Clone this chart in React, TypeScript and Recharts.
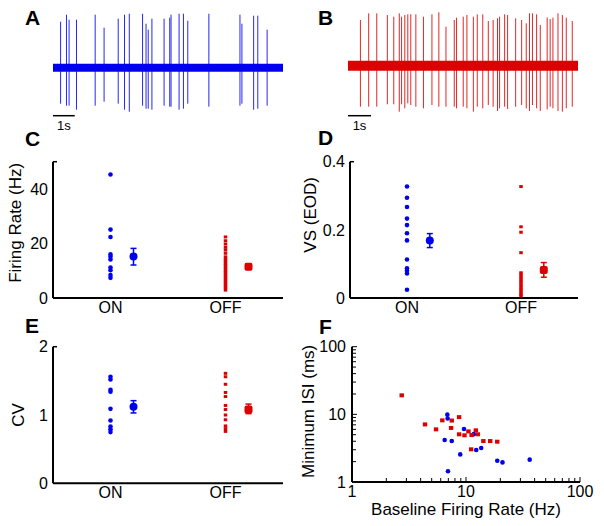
import React from "react";
import {
  ComposedChart,
  ScatterChart,
  Scatter,
  Line,
  XAxis,
  YAxis,
  ReferenceLine,
  ErrorBar,
} from "recharts";

const FONT = '"Liberation Sans", Arial, sans-serif';
const BLUE = "#0000f0";
const RED = "#dd0000";

// A: ON cell spike train (time in s, peak/trough in trace units)
const aDuration = 10.58;
const aSpikeTimes = [0.35, 0.62, 0.74, 1.08, 1.94, 2.35, 3.0, 3.29, 3.51, 4.12, 4.28, 4.38, 4.55, 5.11, 5.37, 5.43, 5.8, 6.0, 6.2, 7.17, 8.6, 8.69, 9.23, 9.42, 9.85];
const aSpikeUp = [46, 53, 48, 48, 53, 40, 49, 53, 54, 54, 44, 38, 49, 49, 50, 53, 54, 54, 47, 54, 53, 44, 52, 52, 38];
const aSpikeDown = [-36, -38, -38, -42, -38, -34, -36, -42, -44, -38, -41, -41, -42, -38, -39, -39, -42, -41, -36, -39, -38, -36, -42, -41, -38];

// B: OFF cell spike train
const bDuration = 10;
const bSpikeTimes = [0.54, 0.9, 1.25, 1.71, 1.99, 2.23, 2.33, 2.47, 2.6, 2.73, 2.95, 3.28, 3.65, 3.95, 4.26, 4.62, 4.72, 5.01, 5.17, 5.45, 5.62, 5.86, 6.1, 6.31, 6.5, 6.59, 6.81, 6.94, 7.29, 7.55, 7.75, 7.89, 8.02, 8.2, 8.36, 8.66, 8.79, 8.91, 9.13, 9.32, 9.49, 9.75];
const bSpikeUp = [45.7, 52.4, 52.4, 50.7, 49.0, 52.4, 49.0, 50.7, 51.4, 51.4, 51.4, 49.0, 51.4, 53.4, 39.0, 45.7, 48.0, 49.0, 50.7, 49.0, 51.4, 51.4, 44.7, 45.7, 47.4, 49.0, 51.4, 50.7, 47.4, 45.7, 42.4, 52.4, 52.4, 51.4, 40.7, 48.3, 46.7, 48.0, 52.4, 50.7, 48.0, 44.7];
const bSpikeDown = [-41, -41, -41, -38.6, -38.6, -46, -38.6, -42.6, -37.6, -39.3, -41, -42.6, -39.3, -41, -41, -41, -42.6, -41, -42.6, -46, -41, -42.6, -39.3, -41, -45.3, -42.6, -41, -43.3, -41, -39.3, -42.6, -45.3, -39.3, -42.6, -45.3, -43.7, -41, -42.6, -45.3, -46, -42.6, -41];

const groups = ["ON", "OFF"];

// C: firing rate (Hz)
const rateOn = [45.3, 25.1, 22.4, 16.0, 15.1, 14.1, 11.2, 10.2, 8.4, 7.4];
const rateOff = [22.4, 21.0, 19.8, 18.6, 17.6, 16.4, 15.1, 14.2, 13.4, 12.6, 11.8, 11.0, 10.2, 9.4, 8.6, 7.8, 7.0, 6.2, 5.4, 4.6, 3.8, 2.9];
const rateMean = [15.2, 11.5];
const rateErr = [[3.1, 3.0], [1.0, 1.0]];

// D: vector strength
const vsOn = [0.327, 0.294, 0.267, 0.233, 0.214, 0.19, 0.169, 0.113, 0.087, 0.08, 0.072, 0.024];
const vsOff = [0.327, 0.209, 0.193, 0.133, 0.074, 0.067, 0.06, 0.053, 0.046, 0.039, 0.032, 0.025, 0.018, 0.011, 0.006];
const vsMean = [0.169, 0.082];
const vsErr = [[0.021, 0.02], [0.021, 0.022]];

// E: CV
const cvOn = [1.56, 1.52, 1.37, 1.34, 1.09, 0.92, 0.83, 0.79, 0.75];
const cvOff = [1.61, 1.56, 1.45, 1.33, 1.27, 1.14, 1.08, 1.0, 0.93, 0.84, 0.8, 0.76];
const cvMean = [1.12, 1.08];
const cvErr = [[0.09, 0.09], [0.06, 0.08]];

// F: min ISI vs baseline rate
const fOnRate = [6.86, 6.9, 6.5, 7.5, 9.6, 8.9, 11.7, 12.3, 13.6, 6.95, 18.8, 20.9, 36.2];
const fOnIsi = [9.9, 8.7, 4.17, 4.03, 6.07, 2.56, 5.1, 2.97, 3.18, 1.44, 2.06, 1.95, 2.14];
const fOffRate = [2.73, 4.37, 5.46, 6.2, 7.5, 7.4, 8.7, 8.7, 9.7, 10.5, 11.2, 12.2, 12.7, 11.1, 14.2, 16.3, 18.8];
const fOffIsi = [19.1, 7.1, 6.0, 8.15, 8.1, 6.3, 9.1, 5.07, 4.9, 5.6, 4.95, 5.8, 5.07, 3.04, 4.03, 4.03, 3.94];
const logTicks = [1, 2, 3, 4, 5, 6, 7, 8, 9, 10, 20, 30, 40, 50, 60, 70, 80, 90, 100];
const decadeTicks = [1, 10, 100];

const axisStyle = { stroke: "#000", strokeWidth: 2 };

const Trace = (props: any) => {
  const { left, times, up, down, duration, color, band, above, barY } = props;
  const baseline = [
    { t: 0, v: 0 },
    { t: duration, v: 0 },
  ];
  return (
    <div style={{ position: "absolute", left, top: 8 }}>
      <ComposedChart width={230} height={130} data={baseline} margin={{ top: 0, right: 0, bottom: 0, left: 0 }}>
        <XAxis type="number" dataKey="t" domain={[0, duration]} hide allowDataOverflow />
        <YAxis type="number" domain={[above - 130, above]} hide allowDataOverflow />
        <Line dataKey="v" stroke={color} strokeWidth={band} dot={false} isAnimationActive={false} />
        {times.map((t: number, i: number) => (
          <ReferenceLine
            key={t}
            segment={[
              { x: t, y: down[i] },
              { x: t, y: up[i] },
            ]}
            stroke={color}
            strokeOpacity={0.85}
            strokeWidth={1}
          />
        ))}
        <ReferenceLine
          segment={[
            { x: 0, y: barY },
            { x: 1, y: barY },
          ]}
          stroke="#000"
          strokeWidth={1.5}
          label={{ value: "1s", position: "bottom", fill: "#000", fontSize: 13, fontFamily: FONT }}
        />
      </ComposedChart>
    </div>
  );
};

const GroupYTick = (props: any) => {
  const { x, y, payload, top, labelTop } = props;
  const v = payload.value;
  const showText = v !== top || labelTop;
  return (
    <g>
      {v === top && <line x1={x + 5} x2={x + 9} y1={y} y2={y} stroke="#000" strokeWidth={1.5} />}
      {showText && (
        <text x={x} y={y} dy="0.355em" textAnchor="end" fontSize={16} fontFamily={FONT} fill="#000">
          {v}
        </text>
      )}
    </g>
  );
};

const onDot = (p: any) => <circle cx={p.cx} cy={p.cy} r={2.3} fill={BLUE} />;
const offDot = (p: any) => <rect x={p.cx - 1.75} y={p.cy - 1.5} width={3.5} height={3} fill={RED} />;
const onMeanDot = (p: any) => <circle cx={p.cx} cy={p.cy} r={4} fill={BLUE} />;
const offMeanDot = (p: any) => <rect x={p.cx - 4} y={p.cy - 4} width={8} height={8} rx={2} fill={RED} />;

const GroupPanel = (props: any) => {
  const { left, top, width, yWidth, right, xHeight, domain, ticks, labelTop, onVals, offVals, means, errs, yLabel, dx, dy, tickGap } = props;
  const onPts = onVals.map((v: number) => ({ x: 1, y: v }));
  const offPts = offVals.map((v: number) => ({ x: 2, y: v }));
  const onMean = [{ x: 1.2, y: means[0], err: errs[0] }];
  const offMean = [{ x: 2.2, y: means[1], err: errs[1] }];
  return (
    <div style={{ position: "absolute", left, top }}>
      <ScatterChart
        width={width}
        height={170}
        margin={{ top: 11.7, right, bottom: 0, left: 0 }}
        style={{ fontFamily: FONT }}
      >
        <XAxis
          type="number"
          dataKey="x"
          domain={[0.5, 2.5]}
          ticks={[1, 2]}
          interval={0}
          tickFormatter={(v: number) => groups[v - 1]}
          axisLine={axisStyle}
          tickLine={false}
          tickSize={0}
          tickMargin={tickGap}
          height={xHeight}
          tick={{ fill: "#000", fontSize: 16, fontFamily: FONT }}
          allowDataOverflow
        />
        <YAxis
          type="number"
          dataKey="y"
          domain={domain}
          ticks={ticks}
          interval={0}
          width={yWidth}
          axisLine={axisStyle}
          tickLine={false}
          tickSize={0}
          tickMargin={5}
          tick={<GroupYTick top={domain[1]} labelTop={labelTop} />}
          allowDataOverflow
          label={{
            value: yLabel,
            angle: -90,
            position: "center",
            dx,
            dy,
            style: { fontSize: 17, fill: "#000", fontFamily: FONT, textAnchor: "middle" },
          }}
        />
        <Scatter data={onPts} shape={onDot} isAnimationActive={false} />
        <Scatter data={offPts} shape={offDot} isAnimationActive={false} />
        <Scatter data={onMean} shape={onMeanDot} isAnimationActive={false}>
          <ErrorBar dataKey="err" direction="y" width={3} stroke={BLUE} strokeWidth={1.5} />
        </Scatter>
        <Scatter data={offMean} shape={offMeanDot} isAnimationActive={false}>
          <ErrorBar dataKey="err" direction="y" width={3} stroke={RED} strokeWidth={1.5} />
        </Scatter>
      </ScatterChart>
    </div>
  );
};

const LogXTick = (props: any) => {
  const { x, y, payload } = props;
  const v = payload.value;
  const major = decadeTicks.includes(v);
  return (
    <g>
      <line x1={x} x2={x} y1={y} y2={y - (major ? 5 : 4)} stroke="#000" strokeWidth={1} />
      {major && (
        <text x={x} y={y + 4} dy="0.71em" textAnchor="middle" fontSize={16} fontFamily={FONT} fill="#000">
          {v}
        </text>
      )}
    </g>
  );
};

const LogYTick = (props: any) => {
  const { x, y, payload } = props;
  const v = payload.value;
  const major = decadeTicks.includes(v);
  return (
    <g>
      <line x1={x} x2={x + (major ? 5 : 4)} y1={y} y2={y} stroke="#000" strokeWidth={1} />
      {major && (
        <text x={x - 6} y={y} dy="0.355em" textAnchor="end" fontSize={16} fontFamily={FONT} fill="#000">
          {v}
        </text>
      )}
    </g>
  );
};

const IsiPanel = () => {
  const onPts = fOnRate.map((r, i) => ({ x: r, y: fOnIsi[i] }));
  const offPts = fOffRate.map((r, i) => ({ x: r, y: fOffIsi[i] }));
  return (
    <div style={{ position: "absolute", left: 300, top: 330 }}>
      <ScatterChart width={304} height={196} margin={{ top: 16.7, right: 24, bottom: 0, left: 0 }} style={{ fontFamily: FONT }}>
        <XAxis
          type="number"
          dataKey="x"
          scale="log"
          domain={[1, 100]}
          ticks={logTicks}
          interval={0}
          axisLine={axisStyle}
          tickLine={false}
          tickSize={0}
          tickMargin={0}
          height={44}
          tick={<LogXTick />}
          allowDataOverflow
          label={{
            value: "Baseline Firing Rate (Hz)",
            position: "insideBottom",
            offset: 11,
            style: { fontSize: 17, fill: "#000", fontFamily: FONT },
          }}
        />
        <YAxis
          type="number"
          dataKey="y"
          scale="log"
          domain={[1, 100]}
          ticks={logTicks}
          interval={0}
          width={52}
          axisLine={axisStyle}
          tickLine={false}
          tickSize={0}
          tickMargin={0}
          tick={<LogYTick />}
          allowDataOverflow
          label={{
            value: "Minimum ISI (ms)",
            angle: -90,
            position: "center",
            dx: -18,
            dy: -3,
            style: { fontSize: 17, fill: "#000", fontFamily: FONT, textAnchor: "middle" },
          }}
        />
        <Scatter data={onPts} shape={onDot} isAnimationActive={false} />
        <Scatter data={offPts} shape={(p: any) => <rect x={p.cx - 2.2} y={p.cy - 2} width={4.4} height={4} fill={RED} />} isAnimationActive={false} />
      </ScatterChart>
    </div>
  );
};

const panelLetters = [
  { t: "A", x: 25, y: 25 },
  { t: "B", x: 318, y: 25 },
  { t: "C", x: 25, y: 146 },
  { t: "D", x: 318, y: 145 },
  { t: "E", x: 25, y: 333 },
  { t: "F", x: 319, y: 334 },
];

const App = () => {
  return (
    <div style={{ position: "fixed", left: 0, top: 0, width: 604, height: 526, background: "#fff", overflow: "hidden" }}>
      <Trace left={53} times={aSpikeTimes} up={aSpikeUp} down={aSpikeDown} duration={aDuration} color={BLUE} band={8} above={59.7} barY={-48} />
      <Trace left={348} times={bSpikeTimes} up={bSpikeUp} down={bSpikeDown} duration={bDuration} color={RED} band={10} above={57.7} barY={-50} />
      <GroupPanel
        left={0}
        top={150}
        width={300}
        yWidth={53}
        right={17}
        xHeight={22}
        domain={[0, 50]}
        ticks={[0, 20, 40, 50]}
        labelTop={false}
        onVals={rateOn}
        offVals={rateOff}
        means={rateMean}
        errs={rateErr}
        yLabel="Firing Rate (Hz)"
        dx={-11.5}
        dy={-7}
        tickGap={4}
      />
      <GroupPanel
        left={300}
        top={150}
        width={304}
        yWidth={50}
        right={26}
        xHeight={22}
        domain={[0, 0.4]}
        ticks={[0, 0.2, 0.4]}
        labelTop={true}
        onVals={vsOn}
        offVals={vsOff}
        means={vsMean}
        errs={vsErr}
        yLabel="VS (EOD)"
        dx={-15}
        dy={-15}
        tickGap={4}
      />
      <GroupPanel
        left={0}
        top={335}
        width={300}
        yWidth={53}
        right={17}
        xHeight={21.7}
        domain={[0, 2]}
        ticks={[0, 1, 2]}
        labelTop={true}
        onVals={cvOn}
        offVals={cvOff}
        means={cvMean}
        errs={cvErr}
        yLabel="CV"
        dx={-8.5}
        dy={0}
        tickGap={3}
      />
      <IsiPanel />
      <svg width={604} height={526} style={{ position: "absolute", left: 0, top: 0, pointerEvents: "none" }}>
        {panelLetters.map((p) => (
          <text key={p.t} x={p.x} y={p.y} fontSize={21} fontWeight="bold" fontFamily={FONT} fill="#000">
            {p.t}
          </text>
        ))}
      </svg>
    </div>
  );
};

export default App;
